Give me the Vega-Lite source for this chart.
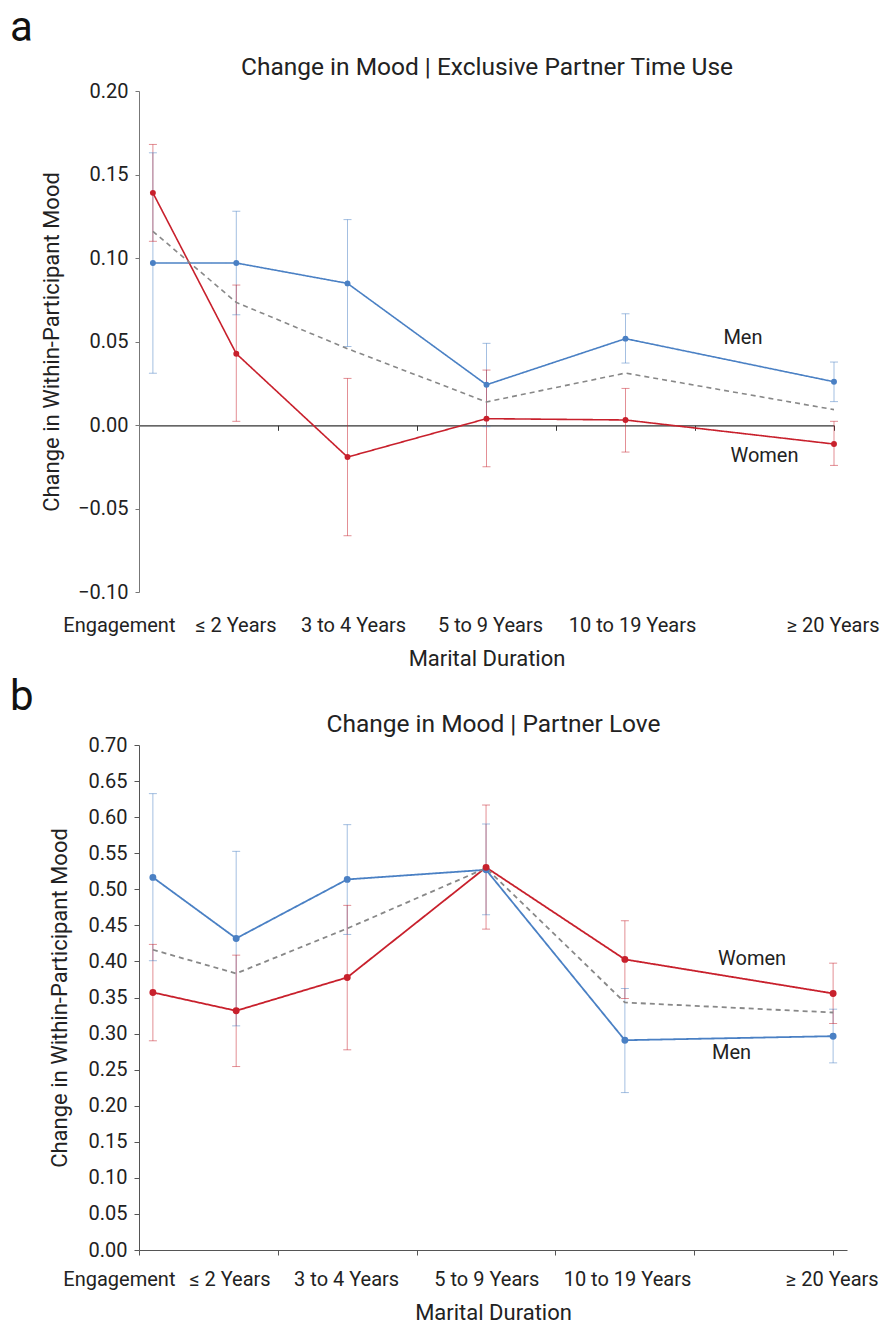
{
  "$schema": "https://vega.github.io/schema/vega-lite/v6.json",
  "padding": {"left": 10, "top": 7, "right": 2, "bottom": 2},
  "background": "white",
  "config": {
    "font": "Roboto",
    "view": {"stroke": null},
    "axis": {"grid": false, "labelFont": "Roboto", "labelFontSize": 20, "labelColor": "#222", "titleFont": "Roboto", "titleFontSize": 22, "titleFontWeight": "normal", "titleColor": "#222"},
    "axisY": {"labelOverlap": false},
    "title": {"font": "Roboto", "fontWeight": "normal", "color": "#111"}
  },
  "datasets": {
    "a": [
      {"duration": "Engagement", "x": 0.1, "group": "Men", "y": 0.097, "lo": 0.031, "hi": 0.163},
      {"duration": "≤ 2 Years", "x": 0.7, "group": "Men", "y": 0.097, "lo": 0.066, "hi": 0.128},
      {"duration": "3 to 4 Years", "x": 1.5, "group": "Men", "y": 0.0848, "lo": 0.047, "hi": 0.123},
      {"duration": "5 to 9 Years", "x": 2.5, "group": "Men", "y": 0.0241, "lo": -0.001, "hi": 0.0489},
      {"duration": "10 to 19 Years", "x": 3.5, "group": "Men", "y": 0.0517, "lo": 0.0371, "hi": 0.0666},
      {"duration": "≥ 20 Years", "x": 5.0, "group": "Men", "y": 0.0259, "lo": 0.014, "hi": 0.0377},
      {"duration": "Engagement", "x": 0.1, "group": "Women", "y": 0.139, "lo": 0.110, "hi": 0.168},
      {"duration": "≤ 2 Years", "x": 0.7, "group": "Women", "y": 0.0427, "lo": 0.0022, "hi": 0.0838},
      {"duration": "3 to 4 Years", "x": 1.5, "group": "Women", "y": -0.0192, "lo": -0.0663, "hi": 0.0279},
      {"duration": "5 to 9 Years", "x": 2.5, "group": "Women", "y": 0.0038, "lo": -0.025, "hi": 0.0329},
      {"duration": "10 to 19 Years", "x": 3.5, "group": "Women", "y": 0.003, "lo": -0.0162, "hi": 0.0219},
      {"duration": "≥ 20 Years", "x": 5.0, "group": "Women", "y": -0.0114, "lo": -0.0242, "hi": 0.0022},
      {"duration": "Engagement", "x": 0.1, "group": "Average", "y": 0.116},
      {"duration": "≤ 2 Years", "x": 0.7, "group": "Average", "y": 0.0734},
      {"duration": "3 to 4 Years", "x": 1.5, "group": "Average", "y": 0.0457},
      {"duration": "5 to 9 Years", "x": 2.5, "group": "Average", "y": 0.0138},
      {"duration": "10 to 19 Years", "x": 3.5, "group": "Average", "y": 0.0311},
      {"duration": "≥ 20 Years", "x": 5.0, "group": "Average", "y": 0.0092}
    ],
    "b": [
      {"duration": "Engagement", "x": 0.1, "group": "Men", "y": 0.5165, "lo": 0.401, "hi": 0.6326},
      {"duration": "≤ 2 Years", "x": 0.7, "group": "Men", "y": 0.4319, "lo": 0.3107, "hi": 0.5526},
      {"duration": "3 to 4 Years", "x": 1.5, "group": "Men", "y": 0.5137, "lo": 0.4374, "hi": 0.5896},
      {"duration": "5 to 9 Years", "x": 2.5, "group": "Men", "y": 0.527, "lo": 0.4647, "hi": 0.5905},
      {"duration": "10 to 19 Years", "x": 3.5, "group": "Men", "y": 0.2908, "lo": 0.2182, "hi": 0.3625},
      {"duration": "≥ 20 Years", "x": 5.0, "group": "Men", "y": 0.2964, "lo": 0.2594, "hi": 0.3338},
      {"duration": "Engagement", "x": 0.1, "group": "Women", "y": 0.357, "lo": 0.29, "hi": 0.4236},
      {"duration": "≤ 2 Years", "x": 0.7, "group": "Women", "y": 0.3316, "lo": 0.2543, "hi": 0.4087},
      {"duration": "3 to 4 Years", "x": 1.5, "group": "Women", "y": 0.3778, "lo": 0.2775, "hi": 0.4777},
      {"duration": "5 to 9 Years", "x": 2.5, "group": "Women", "y": 0.5304, "lo": 0.4448, "hi": 0.6168},
      {"duration": "10 to 19 Years", "x": 3.5, "group": "Women", "y": 0.4028, "lo": 0.3486, "hi": 0.4564},
      {"duration": "≥ 20 Years", "x": 5.0, "group": "Women", "y": 0.3556, "lo": 0.314, "hi": 0.3976},
      {"duration": "Engagement", "x": 0.1, "group": "Average", "y": 0.4162},
      {"duration": "≤ 2 Years", "x": 0.7, "group": "Average", "y": 0.3833},
      {"duration": "3 to 4 Years", "x": 1.5, "group": "Average", "y": 0.4457},
      {"duration": "5 to 9 Years", "x": 2.5, "group": "Average", "y": 0.5294},
      {"duration": "10 to 19 Years", "x": 3.5, "group": "Average", "y": 0.3431},
      {"duration": "≥ 20 Years", "x": 5.0, "group": "Average", "y": 0.3292}
    ],
    "annA": [
      {"label": "Men", "x": 4.345, "y": 0.0523},
      {"label": "Women", "x": 4.5, "y": -0.0188}
    ],
    "annB": [
      {"label": "Women", "x": 4.416, "y": 0.4032},
      {"label": "Men", "x": 4.268, "y": 0.2728}
    ]
  },
  "vconcat": [
    {
      "width": 695,
      "height": 501,
      "title": {"text": "a", "anchor": "start", "frame": "group", "dx": -129, "fontSize": 42, "offset": 4},
      "layer": [
        {
          "data": {"name": "a"},
          "transform": [{"filter": "datum.group !== 'Average'"}],
          "mark": {"type": "rule", "strokeWidth": 1, "opacity": 0.5},
          "encoding": {
            "x": {"field": "x", "type": "quantitative", "scale": {"domain": [0, 5], "nice": false, "zero": false},
              "axis": {"orient": "bottom", "values": [0, 1, 2, 3, 4, 5], "labels": false, "title": null, "offset": -166.7, "domainColor": "#333", "tickColor": "#333", "tickSize": 5, "domainWidth": 1.2}},
            "y": {"field": "lo", "type": "quantitative", "scale": {"domain": [-0.1, 0.2], "nice": false, "zero": false},
              "axis": {"values": [-0.1, -0.05, 0, 0.05, 0.1, 0.15, 0.2], "format": ".2f", "title": "Change in Within-Participant Mood", "tickSize": 4, "labelPadding": 7, "titlePadding": 14, "labelOverlap": false, "domainColor": "#777", "tickColor": "#777"}},
            "y2": {"field": "hi"},
            "color": {"field": "group", "type": "nominal", "scale": {"domain": ["Men", "Women", "Average"], "range": ["#4a80c4", "#c8202c", "#888888"]}, "legend": null}
          }
        },
        {
          "data": {"name": "a"},
          "transform": [{"filter": "datum.group !== 'Average'"}],
          "mark": {"type": "tick", "orient": "horizontal", "size": 8, "thickness": 1, "opacity": 0.5},
          "encoding": {
            "x": {"field": "x", "type": "quantitative", "scale": {"domain": [0, 5], "nice": false, "zero": false}, "axis": null},
            "y": {"field": "lo", "type": "quantitative", "scale": {"domain": [-0.1, 0.2], "nice": false, "zero": false}},
            "color": {"field": "group", "type": "nominal", "legend": null}
          }
        },
        {
          "data": {"name": "a"},
          "transform": [{"filter": "datum.group !== 'Average'"}],
          "mark": {"type": "tick", "orient": "horizontal", "size": 8, "thickness": 1, "opacity": 0.5},
          "encoding": {
            "x": {"field": "x", "type": "quantitative", "scale": {"domain": [0, 5], "nice": false, "zero": false}, "axis": null},
            "y": {"field": "hi", "type": "quantitative", "scale": {"domain": [-0.1, 0.2], "nice": false, "zero": false}},
            "color": {"field": "group", "type": "nominal", "legend": null}
          }
        },
        {
          "data": {"name": "a"},
          "mark": {"type": "line", "strokeWidth": 1.6},
          "encoding": {
            "x": {"field": "x", "type": "quantitative", "scale": {"domain": [0, 5], "nice": false, "zero": false},
              "axis": {"orient": "bottom", "values": [0.1, 0.694, 1.54, 2.525, 3.547, 4.99],
                "labelExpr": "datum.value < 0.3 ? 'Engagement' : datum.value < 1 ? '≤ 2 Years' : datum.value < 2 ? '3 to 4 Years' : datum.value < 3 ? '5 to 9 Years' : datum.value < 4 ? '10 to 19 Years' : '≥ 20 Years'",
                "labelOffset": {"condition": {"test": "datum.value < 0.3", "value": -34}, "value": 0},
                "ticks": false, "tickSize": 0, "domain": false, "labelPadding": 23, "labelFlush": false, "labelOverlap": false, "labelBound": false,
                "title": "Marital Duration", "titlePadding": 13}},
            "y": {"field": "y", "type": "quantitative", "scale": {"domain": [-0.1, 0.2], "nice": false, "zero": false}},
            "color": {"field": "group", "type": "nominal", "legend": null},
            "strokeDash": {"field": "group", "type": "nominal", "scale": {"domain": ["Men", "Women", "Average"], "range": [[1, 0], [1, 0], [5, 4]]}, "legend": null}
          }
        },
        {
          "data": {"name": "a"},
          "transform": [{"filter": "datum.group !== 'Average'"}],
          "mark": {"type": "point", "filled": true, "opacity": 1, "size": 35},
          "encoding": {
            "x": {"field": "x", "type": "quantitative", "scale": {"domain": [0, 5], "nice": false, "zero": false},
              "axis": {"orient": "top", "labels": false, "ticks": false, "tickSize": 0, "domain": false, "title": "Change in Mood | Exclusive Partner Time Use", "titleFontSize": 24.5, "titlePadding": 12}},
            "y": {"field": "y", "type": "quantitative", "scale": {"domain": [-0.1, 0.2], "nice": false, "zero": false}},
            "color": {"field": "group", "type": "nominal", "legend": null}
          }
        },
        {
          "data": {"name": "annA"},
          "mark": {"type": "text", "fontSize": 20, "color": "#222", "align": "center", "baseline": "middle"},
          "encoding": {
            "x": {"field": "x", "type": "quantitative", "scale": {"domain": [0, 5], "nice": false, "zero": false}, "axis": null},
            "y": {"field": "y", "type": "quantitative", "scale": {"domain": [-0.1, 0.2], "nice": false, "zero": false}},
            "text": {"field": "label"}
          }
        }
      ],
      "resolve": {"axis": {"x": "independent"}}
    },
    {
      "width": 708,
      "height": 505,
      "title": {"text": "b", "anchor": "start", "frame": "group", "dx": -129, "fontSize": 42, "offset": -8},
      "layer": [
        {
          "data": {"name": "b"},
          "transform": [{"filter": "datum.group !== 'Average'"}],
          "mark": {"type": "rule", "strokeWidth": 1, "opacity": 0.5},
          "encoding": {
            "x": {"field": "x", "type": "quantitative", "scale": {"domain": [0, 5.1], "nice": false, "zero": false},
              "axis": {"orient": "bottom", "values": [0, 1, 2, 3, 4, 5], "labels": false, "title": null, "domainColor": "#555", "tickColor": "#555", "tickSize": 5, "domainWidth": 1.2}},
            "y": {"field": "lo", "type": "quantitative", "scale": {"domain": [0, 0.7], "nice": false, "zero": false},
              "axis": {"values": [0, 0.05, 0.1, 0.15, 0.2, 0.25, 0.3, 0.35, 0.4, 0.45, 0.5, 0.55, 0.6, 0.65, 0.7], "format": ".2f", "title": "Change in Within-Participant Mood", "tickSize": 5, "labelPadding": 7, "titlePadding": 17, "labelOverlap": false, "domainColor": "#555", "tickColor": "#555"}},
            "y2": {"field": "hi"},
            "color": {"field": "group", "type": "nominal", "scale": {"domain": ["Men", "Women", "Average"], "range": ["#4a80c4", "#c8202c", "#888888"]}, "legend": null}
          }
        },
        {
          "data": {"name": "b"},
          "transform": [{"filter": "datum.group !== 'Average'"}],
          "mark": {"type": "tick", "orient": "horizontal", "size": 8, "thickness": 1, "opacity": 0.5},
          "encoding": {
            "x": {"field": "x", "type": "quantitative", "scale": {"domain": [0, 5.1], "nice": false, "zero": false}, "axis": null},
            "y": {"field": "lo", "type": "quantitative", "scale": {"domain": [0, 0.7], "nice": false, "zero": false},
              "axis": {"values": [0, 0.05, 0.1, 0.15, 0.2, 0.25, 0.3, 0.35, 0.4, 0.45, 0.5, 0.55, 0.6, 0.65, 0.7], "format": ".2f", "title": "Change in Within-Participant Mood", "tickSize": 5, "labelPadding": 7, "titlePadding": 17, "labelOverlap": false, "domainColor": "#555", "tickColor": "#555"}},
            "color": {"field": "group", "type": "nominal", "legend": null}
          }
        },
        {
          "data": {"name": "b"},
          "transform": [{"filter": "datum.group !== 'Average'"}],
          "mark": {"type": "tick", "orient": "horizontal", "size": 8, "thickness": 1, "opacity": 0.5},
          "encoding": {
            "x": {"field": "x", "type": "quantitative", "scale": {"domain": [0, 5.1], "nice": false, "zero": false}, "axis": null},
            "y": {"field": "hi", "type": "quantitative", "scale": {"domain": [0, 0.7], "nice": false, "zero": false},
              "axis": {"values": [0, 0.05, 0.1, 0.15, 0.2, 0.25, 0.3, 0.35, 0.4, 0.45, 0.5, 0.55, 0.6, 0.65, 0.7], "format": ".2f", "title": "Change in Within-Participant Mood", "tickSize": 5, "labelPadding": 7, "titlePadding": 17, "labelOverlap": false, "domainColor": "#555", "tickColor": "#555"}},
            "color": {"field": "group", "type": "nominal", "legend": null}
          }
        },
        {
          "data": {"name": "b"},
          "mark": {"type": "line", "strokeWidth": 1.8},
          "encoding": {
            "x": {"field": "x", "type": "quantitative", "scale": {"domain": [0, 5.1], "nice": false, "zero": false},
              "axis": {"orient": "bottom", "values": [0.1, 0.652, 1.492, 2.502, 3.515, 4.99],
                "labelExpr": "datum.value < 0.3 ? 'Engagement' : datum.value < 1 ? '≤ 2 Years' : datum.value < 2 ? '3 to 4 Years' : datum.value < 3 ? '5 to 9 Years' : datum.value < 4 ? '10 to 19 Years' : '≥ 20 Years'",
                "labelOffset": {"condition": {"test": "datum.value < 0.3", "value": -34}, "value": 0},
                "ticks": false, "tickSize": 0, "domain": false, "labelPadding": 19, "labelFlush": false, "labelOverlap": false, "labelBound": false,
                "title": "Marital Duration", "titlePadding": 13}},
            "y": {"field": "y", "type": "quantitative", "scale": {"domain": [0, 0.7], "nice": false, "zero": false},
              "axis": {"values": [0, 0.05, 0.1, 0.15, 0.2, 0.25, 0.3, 0.35, 0.4, 0.45, 0.5, 0.55, 0.6, 0.65, 0.7], "format": ".2f", "title": "Change in Within-Participant Mood", "tickSize": 5, "labelPadding": 7, "titlePadding": 17, "labelOverlap": false, "domainColor": "#555", "tickColor": "#555"}},
            "color": {"field": "group", "type": "nominal", "legend": null},
            "strokeDash": {"field": "group", "type": "nominal", "scale": {"domain": ["Men", "Women", "Average"], "range": [[1, 0], [1, 0], [5, 4]]}, "legend": null}
          }
        },
        {
          "data": {"name": "b"},
          "transform": [{"filter": "datum.group !== 'Average'"}],
          "mark": {"type": "point", "filled": true, "opacity": 1, "size": 48},
          "encoding": {
            "x": {"field": "x", "type": "quantitative", "scale": {"domain": [0, 5.1], "nice": false, "zero": false},
              "axis": {"orient": "top", "labels": false, "ticks": false, "tickSize": 0, "domain": false, "title": "Change in Mood | Partner Love", "titleFontSize": 24.5, "titlePadding": 9}},
            "y": {"field": "y", "type": "quantitative", "scale": {"domain": [0, 0.7], "nice": false, "zero": false},
              "axis": {"values": [0, 0.05, 0.1, 0.15, 0.2, 0.25, 0.3, 0.35, 0.4, 0.45, 0.5, 0.55, 0.6, 0.65, 0.7], "format": ".2f", "title": "Change in Within-Participant Mood", "tickSize": 5, "labelPadding": 7, "titlePadding": 17, "labelOverlap": false, "domainColor": "#555", "tickColor": "#555"}},
            "color": {"field": "group", "type": "nominal", "legend": null}
          }
        },
        {
          "data": {"name": "annB"},
          "mark": {"type": "text", "fontSize": 20, "color": "#222", "align": "center", "baseline": "middle"},
          "encoding": {
            "x": {"field": "x", "type": "quantitative", "scale": {"domain": [0, 5.1], "nice": false, "zero": false}, "axis": null},
            "y": {"field": "y", "type": "quantitative", "scale": {"domain": [0, 0.7], "nice": false, "zero": false},
              "axis": {"values": [0, 0.05, 0.1, 0.15, 0.2, 0.25, 0.3, 0.35, 0.4, 0.45, 0.5, 0.55, 0.6, 0.65, 0.7], "format": ".2f", "title": "Change in Within-Participant Mood", "tickSize": 5, "labelPadding": 7, "titlePadding": 17, "labelOverlap": false, "domainColor": "#555", "tickColor": "#555"}},
            "text": {"field": "label"}
          }
        }
      ],
      "resolve": {"axis": {"x": "independent"}}
    }
  ],
  "spacing": 7
}
